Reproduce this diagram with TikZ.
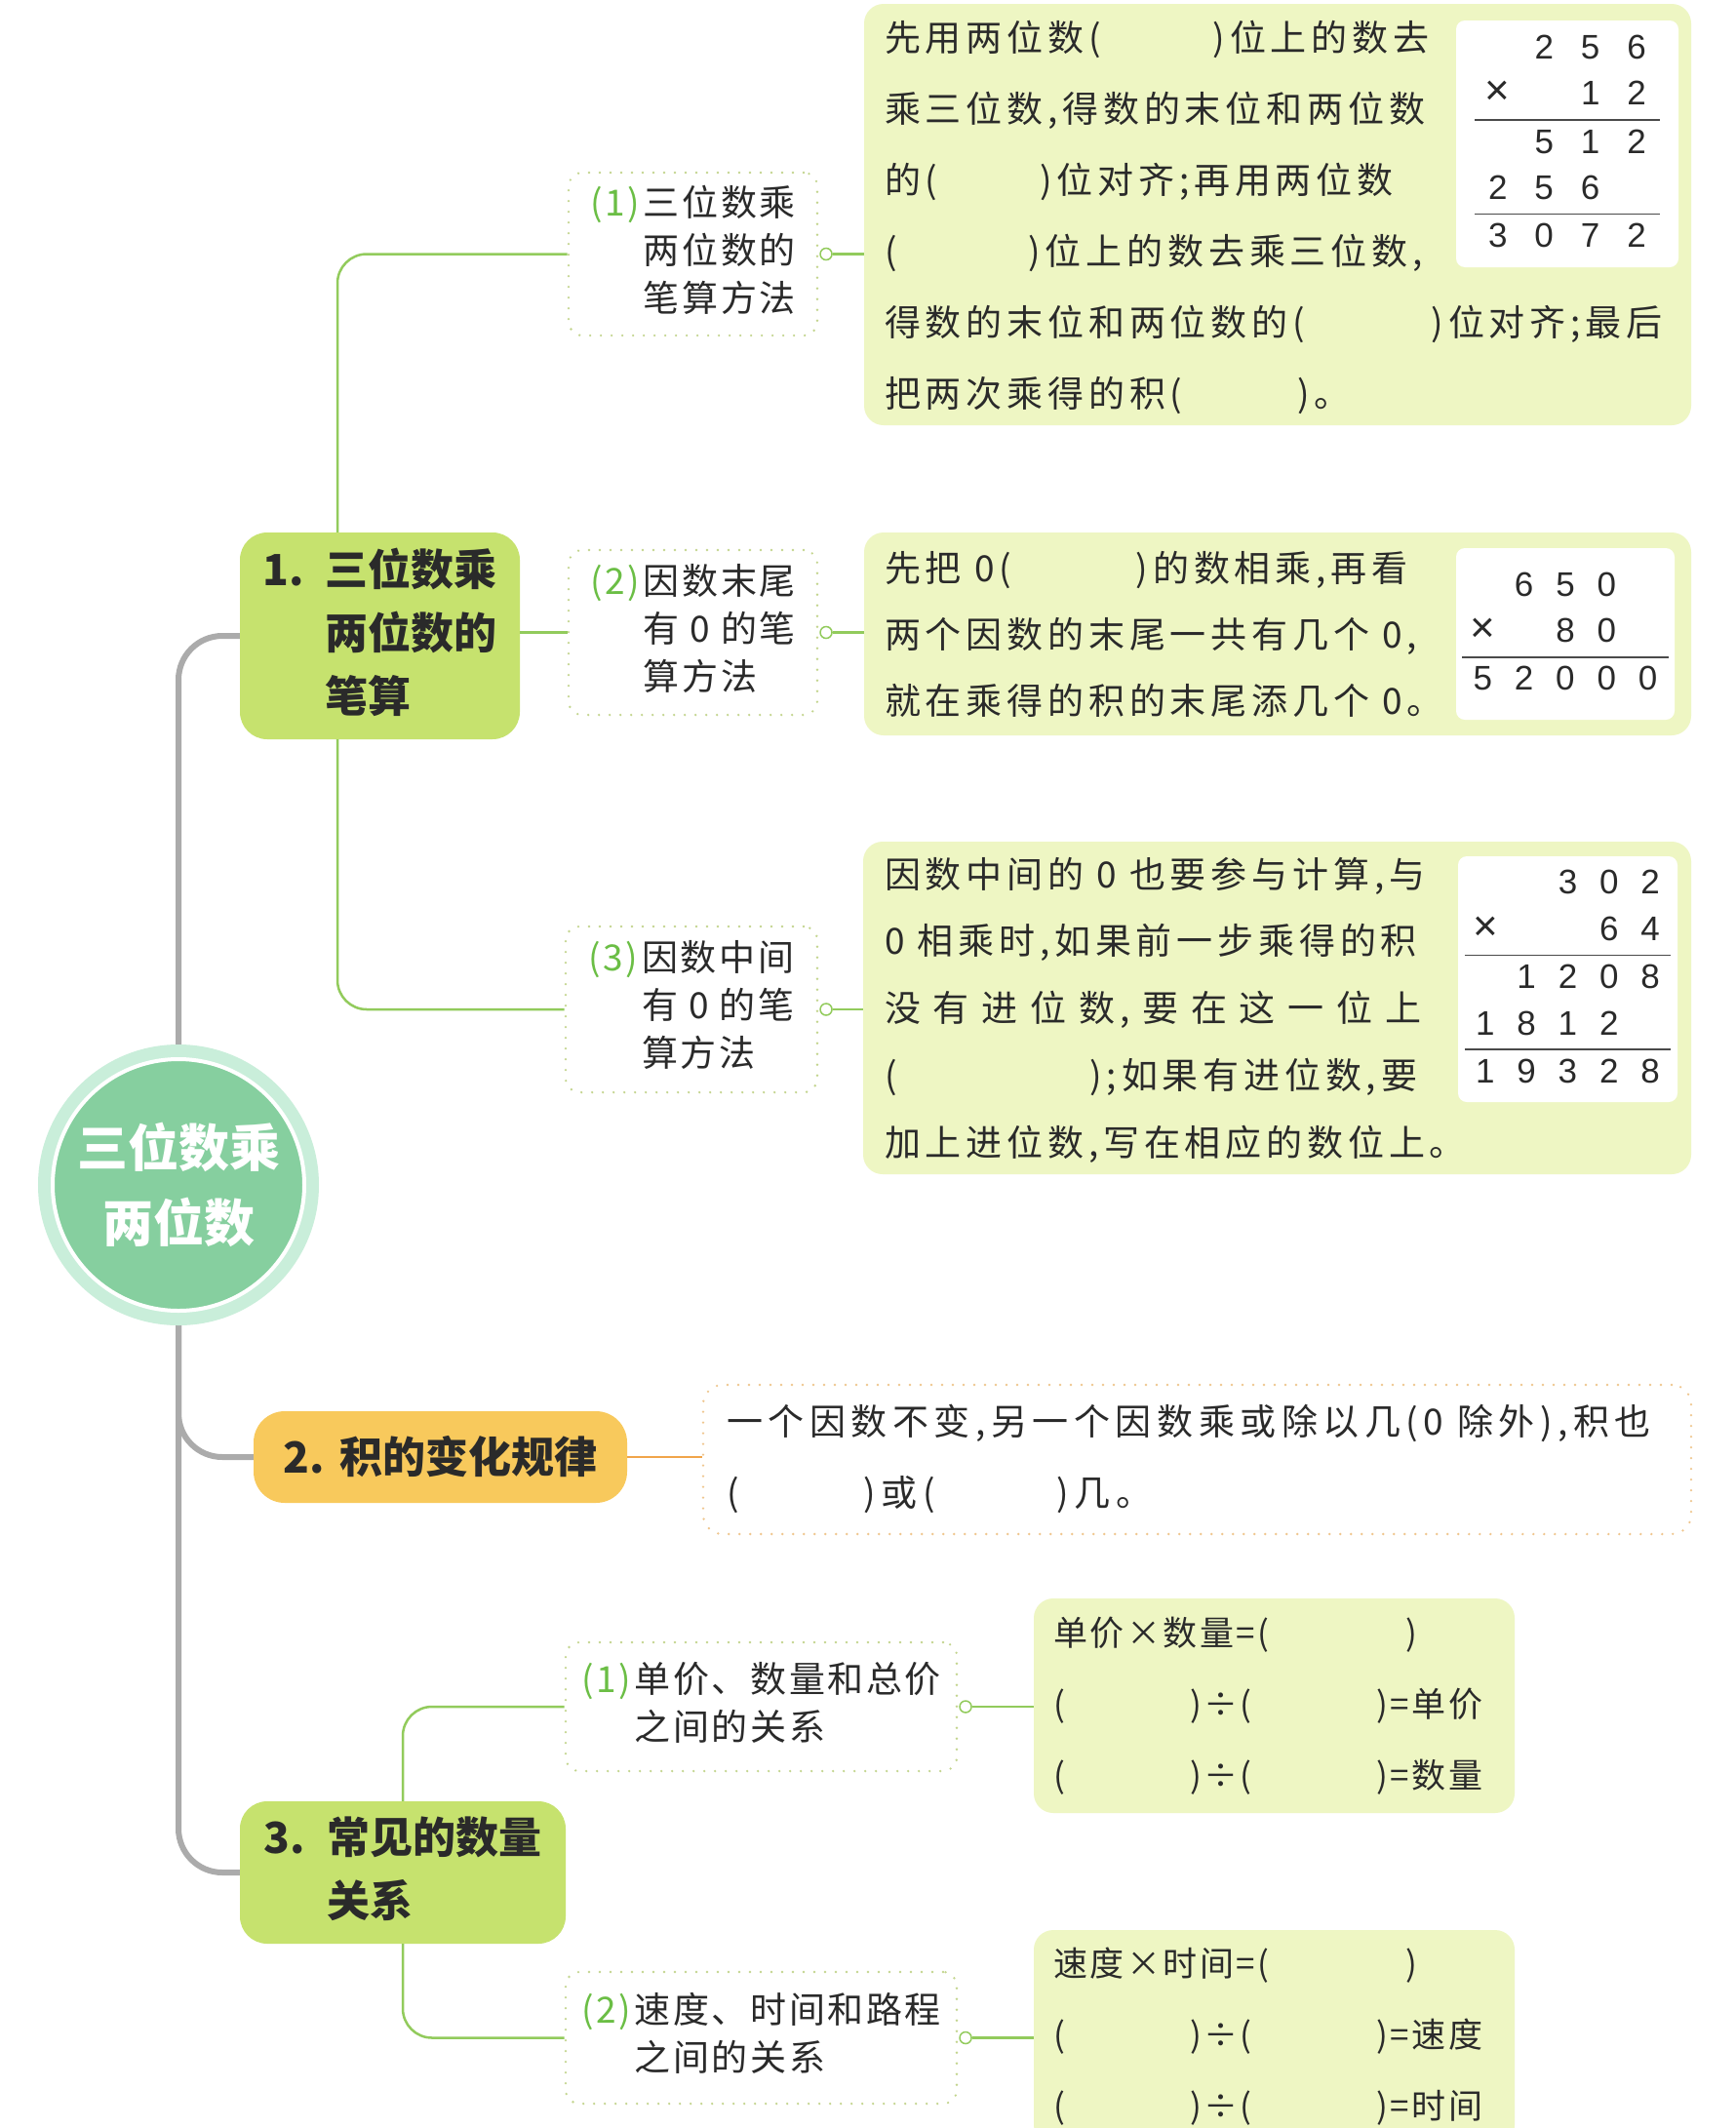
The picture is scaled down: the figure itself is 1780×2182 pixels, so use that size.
\documentclass[tikz,border=0pt]{standalone}
\usepackage{fontspec}
\usepackage{xcolor}
\usepackage{array,colortbl}
\usepackage{tikz}
\usetikzlibrary{positioning}

\setmainfont{Noto Sans CJK SC}
\newfontfamily\bodyfont[LetterSpace=13]{Noto Sans CJK SC}
\newfontfamily\digitfont{Liberation Sans}

\definecolor{ink}{HTML}{2A2A2A}
\definecolor{rootin}{HTML}{86CF9F}
\definecolor{rootout}{HTML}{C9EEDA}
\definecolor{leaf}{HTML}{C6E26E}
\definecolor{amber}{HTML}{F8C95C}
\definecolor{panelbg}{HTML}{EEF6C3}
\definecolor{twig}{HTML}{92CB5C}
\definecolor{stem}{HTML}{ABABAB}
\definecolor{dots}{HTML}{C3D58E}
\definecolor{dotsor}{HTML}{EFC68E}
\definecolor{rust}{HTML}{F0A54A}
\definecolor{labgreen}{HTML}{6BBE45}

\newcolumntype{Q}[1]{>{\centering\arraybackslash}p{#1}}
\newcommand\blank[1]{(\hspace*{#1pt})}
\newcommand\lab[1]{\textcolor{labgreen}{#1}}
\newcommand\tms{{\fontsize{44}{47.5}\selectfont ×}}
\setlength\tabcolsep{0pt}
\setlength\arrayrulewidth{1.6pt}

\begin{document}
\begin{tikzpicture}[x=1pt, y=-1pt,
  every node/.style={text=ink},
  topic/.style={rectangle, rounded corners=28, fill=leaf, inner sep=0,
                font=\fontsize{44}{65}\selectfont\bfseries},
  dotline/.style={line width=2.6, dash pattern=on 0pt off 11pt, line cap=round},
  subbox/.style={rectangle, rounded corners=14, draw=dots, dotline, inner sep=0,
                 font=\fontsize{37}{49}\selectfont\addfontfeature{LetterSpace=7}},
  panel/.style={rectangle, rounded corners=20, fill=panelbg, inner sep=0},
  txt/.style={align=left, inner sep=0, anchor=west},
  sumbox/.style={rectangle, rounded corners=9, fill=white, inner sep=0, anchor=north east,
                 font=\digitfont\fontsize{35}{47.5}\selectfont\arrayrulecolor{ink!85}},
  root/.style={circle, fill=rootin, draw=white, line width=4, minimum size=258, inner sep=0,
               preaction={draw=rootout, line width=30}, text=white, align=center,
               font=\fontsize{52}{77}\selectfont\bfseries},
  knob/.style={circle, draw=twig, fill=white, line width=1.5, minimum size=12, inner sep=0},
  link/.style={draw=twig, line width=2.5},
  trunk/.style={draw=stem, line width=6, rounded corners=45}]

\path[use as bounding box, fill=white] (0,0) rectangle (1780,2182);

% main topics
\node[topic, minimum width=287, minimum height=212] (n1) at (389.5,652)
  {\begin{tabular}{@{}l@{\hspace{22pt}}l@{}}1. & 三位数乘\\ & 两位数的\\ & 笔算\end{tabular}};
\node[topic, fill=amber, rounded corners=32, minimum width=383, minimum height=94] (n2) at (451.5,1494)
  {2.\hspace{16pt}积的变化规律};
\node[topic, minimum width=334, minimum height=146] (n3) at (413,1920)
  {\begin{tabular}{@{}l@{\hspace{22pt}}l@{}}3. & 常见的数量\\ & 关系\end{tabular}};

% sub topics
\node[subbox, minimum width=255, minimum height=167] (s1) at (710.5,260.5)
  {\begin{tabular}{@{}l@{\hspace{4pt}}l@{}}\lab{(1)} & 三位数乘\\ & 两位数的\\ & 笔算方法\end{tabular}};
\node[subbox, minimum width=255, minimum height=169] (s2) at (710.5,648.5)
  {\begin{tabular}{@{}l@{\hspace{4pt}}l@{}}\lab{(2)} & 因数末尾\\ & 有 0 的笔\\ & 算方法\end{tabular}};
\node[subbox, minimum width=258, minimum height=170] (s3) at (709,1035)
  {\begin{tabular}{@{}l@{\hspace{4pt}}l@{}}\lab{(3)} & 因数中间\\ & 有 0 的笔\\ & 算方法\end{tabular}};
\node[subbox, minimum width=401, minimum height=132] (q1) at (780.5,1750)
  {\begin{tabular}{@{}l@{\hspace{4pt}}l@{}}\lab{(1)} & 单价、数量和总价\\ & 之间的关系\end{tabular}};
\node[subbox, minimum width=401, minimum height=135] (q2) at (780.5,2089.5)
  {\begin{tabular}{@{}l@{\hspace{4pt}}l@{}}\lab{(2)} & 速度、时间和路程\\ & 之间的关系\end{tabular}};

% panels
\node[panel, minimum width=848, minimum height=432] (c1) at (1310,220) {};
\node[panel, minimum width=848, minimum height=208] (c2) at (1310,650) {};
\node[panel, minimum width=849, minimum height=341] (c3) at (1309.5,1033.5) {};
\node[panel, fill=none, draw=dotsor, dotline, minimum width=1013, minimum height=153] (d2) at (1227.5,1496.5) {};
\node[panel, minimum width=493, minimum height=220] (e1) at (1306.5,1749) {};
\node[panel, minimum width=493, minimum height=220] (e2) at (1306.5,2089) {};

% worked sums
\node[sumbox, minimum width=228, minimum height=253] (w1) at ([shift={(-13,17)}]c1.north east)
  {\begin{tabular}{@{}*{4}{Q{47.5pt}}@{}}
    & 2 & 5 & 6\\
   \tms &  & 1 & 2\\ \hline
    & 5 & 1 & 2\\
   2 & 5 & 6 & \\ \hline
   3 & 0 & 7 & 2
  \end{tabular}};
\node[sumbox, minimum width=224, minimum height=176] (w2) at ([shift={(-17,16)}]c2.north east)
  {\begin{tabular}{@{}*{5}{Q{42.3pt}}@{}}
    & 6 & 5 & 0 & \\
   \tms &  & 8 & 0 & \\ \hline
   5 & 2 & 0 & 0 & 0
  \end{tabular}};
\node[sumbox, minimum width=225, minimum height=252] (w3) at ([shift={(-14,15)}]c3.north east)
  {\begin{tabular}{@{}*{5}{Q{42.3pt}}@{}}
    &  & 3 & 0 & 2\\
   \tms &  &  & 6 & 4\\ \hline
    & 1 & 2 & 0 & 8\\
   1 & 8 & 1 & 2 & \\ \hline
   1 & 9 & 3 & 2 & 8
  \end{tabular}};

% panel texts
\node[txt, font=\bodyfont\fontsize{37}{73}\selectfont] (c1t) at (907,222.5) {%
先用两位数\blank{115}位上的数去\\
乘三位数,得数的末位和两位数\\
的\blank{105}位对齐;再用两位数\\
\blank{135}位上的数去乘三位数,\\
得数的末位和两位数的\blank{130}位对齐;最后\\
把两次乘得的积\blank{118}。};
\node[txt, font=\bodyfont\fontsize{37}{68}\selectfont] (c2t) at (907,650) {%
先把 0\blank{128}的数相乘,再看\\
两个因数的末尾一共有几个 0,\\
就在乘得的积的末尾添几个 0。};
\node[txt, font=\bodyfont\fontsize{37}{68.75}\selectfont] (c3t) at (907,1035.5) {%
因数中间的 0 也要参与计算,与\\
0 相乘时,如果前一步乘得的积\\
\makebox[550pt][s]{没\hfil 有\hfil 进\hfil 位\hfil 数,\hfil 要\hfil 在\hfil 这\hfil 一\hfil 位\hfil 上}\\
\blank{198};如果有进位数,要\\
加上进位数,写在相应的数位上。};
\node[txt, font=\bodyfont\fontsize{37}{73}\selectfont\addfontfeature{LetterSpace=15}] (d2t) at (745,1495.5) {%
一个因数不变,另一个因数乘或除以几(0 除外),积也\\
\blank{128}或\blank{125}几。};
\node[txt, font=\bodyfont\fontsize{35}{73}\selectfont\addfontfeature{LetterSpace=7}] (e1t) at (1080,1749) {%
单价×数量=\blank{140}\\
\blank{128}÷\blank{128}=单价\\
\blank{128}÷\blank{128}=数量};
\node[txt, font=\bodyfont\fontsize{35}{73}\selectfont\addfontfeature{LetterSpace=7}] (e2t) at (1080,2088) {%
速度×时间=\blank{140}\\
\blank{128}÷\blank{128}=速度\\
\blank{128}÷\blank{128}=时间};

% trunk and root
\coordinate (hub) at (183,1215);
\draw[trunk] (n1.west) -| (hub) |- (n3.west);
\draw[trunk] (hub) |- (n2.west);
\node[root] (root) at (hub) {三位数乘\\两位数};

% branches
\draw[link, rounded corners=30] ([xshift=-43.5]n1.north) |- (s1.west);
\draw[link, rounded corners=30] ([xshift=-43.5]n1.south) |- (s3.west);
\draw[link] (n1.east |- s2.west) -- (s2.west);
\draw[link, rounded corners=30] (n3.north) |- (q1.west);
\draw[link, rounded corners=30] (n3.south) |- (q2.west);
\draw[link, draw=rust] (n2.east) -- (n2.east -| d2.west);

\node[knob, right=1pt of s1] (k1) {};
\node[knob, right=1pt of s2] (k2) {};
\node[knob, right=1pt of s3] (k3) {};
\node[knob, right=1pt of q1] (k4) {};
\node[knob, right=1pt of q2] (k5) {};
\draw[link] (k1) -- (k1 -| c1.west);
\draw[link] (k2) -- (k2 -| c2.west);
\draw[link] (k3) -- (k3 -| c3.west);
\draw[link] (k4) -- (k4 -| e1.west);
\draw[link] (k5) -- (k5 -| e2.west);
\end{tikzpicture}
\end{document}
